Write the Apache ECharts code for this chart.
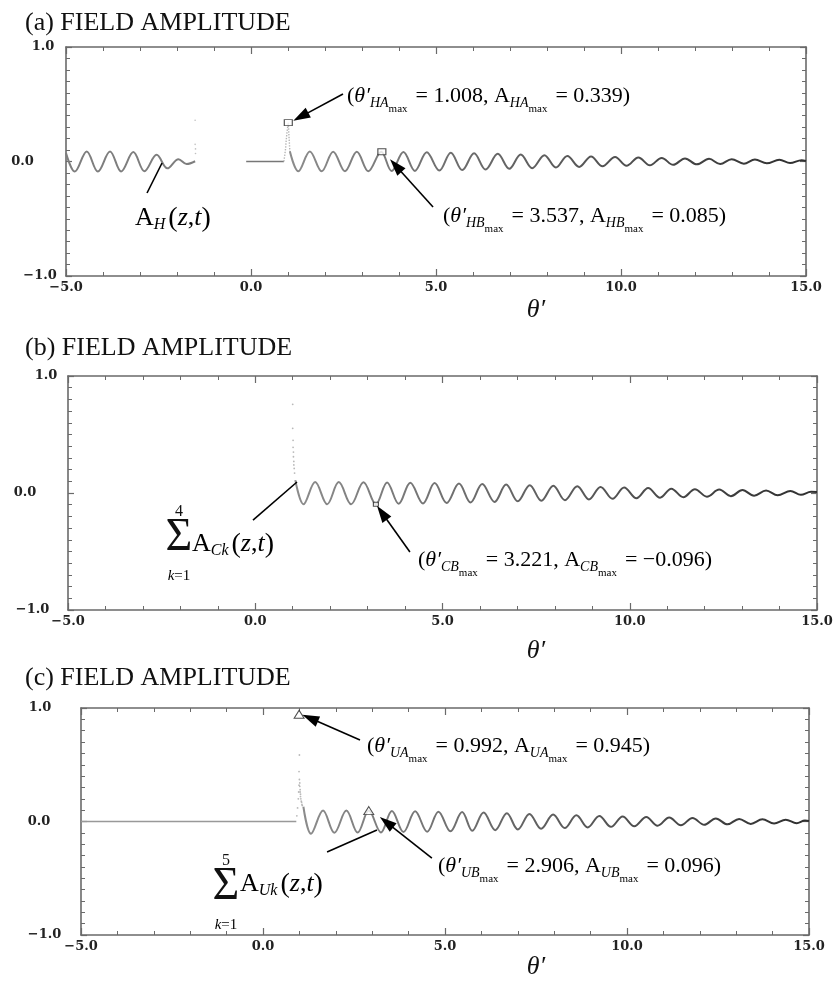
<!DOCTYPE html>
<html><head><meta charset="utf-8">
<script src="https://cdn.jsdelivr.net/npm/echarts@6/dist/echarts.min.js"></script>
<style>html,body{margin:0;padding:0;background:#fff}#c{width:838px;height:982px}</style>
</head><body><div id="c"></div>
<script>
// ---------------- data ----------------
const xTickValues = [-5, 0, 5, 10, 15];
const xTickLabels = ['\u22125.0', '0.0', '5.0', '10.0', '15.0'];
const yTickValues = [-1, 0, 1];
const yTickLabels = ['\u22121.0', '0.0', '1.0'];

// panel (a)
const thetaA_left = [-5.00,-4.76,-4.44,-4.14,-3.81,-3.51,-3.18,-2.88,-2.55,-2.26,-1.96,-1.74,-1.51];
const ampA_left   = [0.075,-0.088,0.088,-0.088,0.088,-0.087,0.082,-0.085,0.058,-0.060,0.020,-0.022,0.002];
const thetaA_dots = [-1.51,-1.51,-1.50,-1.50];
const ampA_dots   = [0.36,0.15,0.11,0.07];
const thetaA_flat = [-0.13, 0.89];
const ampA_flat   = [0, 0];
const thetaA_spike = [0.89,0.93,0.97,1.008,1.03,1.05];
const ampA_spike   = [0,0.10,0.25,0.339,0.20,0.09];
const thetaA = [1.05,1.28,1.59,1.91,2.22,2.54,2.86,3.17,3.52,3.80,4.12,4.43,4.75,5.09,5.40,5.71,6.03,6.34,6.67,6.98,7.29,7.60,7.93,8.24,8.55,8.87,9.19,9.50,9.84,10.15,10.47,10.78,11.10,11.41,11.73,12.05,12.38,12.68,12.99,13.32,13.62,13.94,14.28,14.57,14.88,15.0];
const ampA   = [0.09,-0.085,0.087,-0.086,0.086,-0.085,0.085,-0.085,0.085,-0.084,0.083,-0.082,0.081,-0.079,0.077,-0.075,0.072,-0.070,0.067,-0.064,0.061,-0.058,0.055,-0.052,0.049,-0.047,0.044,-0.042,0.039,-0.037,0.035,-0.033,0.031,-0.029,0.027,-0.025,0.023,-0.022,0.020,-0.019,0.017,-0.016,0.015,-0.014,0.012,0.005];
const markThetaA = [1.008, 3.537];
const markAmpA   = [0.339, 0.085];

// panel (b)
const thetaB_dots = [1.00,1.00,1.01,1.01,1.02,1.02,1.03,1.03,1.04,1.05];
const ampB_dots   = [0.758,0.553,0.45,0.39,0.35,0.31,0.27,0.24,0.21,0.17];
const thetaB = [1.07,1.29,1.60,1.92,2.23,2.56,2.89,3.221,3.52,3.83,4.14,4.48,4.79,5.11,5.44,5.75,6.06,6.39,6.70,7.01,7.33,7.64,7.96,8.27,8.60,8.91,9.22,9.54,9.85,10.18,10.49,10.81,11.11,11.43,11.74,12.06,12.39,12.70,13.01,13.32,13.64,13.95,14.29,14.57,14.84,15.0];
const ampB   = [0.11,-0.096,0.094,-0.096,0.093,-0.096,0.092,-0.096,0.090,-0.092,0.088,-0.089,0.085,-0.085,0.081,-0.081,0.077,-0.076,0.072,-0.071,0.067,-0.066,0.062,-0.061,0.057,-0.055,0.052,-0.050,0.047,-0.045,0.042,-0.040,0.037,-0.036,0.033,-0.031,0.029,-0.027,0.025,-0.023,0.021,-0.020,0.018,-0.016,0.010,0.008];
const markThetaB = [3.221];
const markAmpB   = [-0.096];

// panel (c)
const thetaC_flat = [-5.0, 0.915];
const ampC_flat   = [0, 0];
const thetaC_dots = [0.93,0.95,0.97,0.98,0.99,0.99,1.00,1.00,1.01,1.01,1.02,1.02,1.03,1.03,1.04,1.05,1.06,1.07,1.08];
const ampC_dots   = [0.05,0.12,0.20,0.26,0.32,0.44,0.586,0.37,0.34,0.31,0.28,0.26,0.24,0.22,0.20,0.18,0.17,0.15,0.14];
const thetaC = [1.11,1.32,1.65,1.96,2.29,2.60,2.906,3.24,3.54,3.86,4.18,4.51,4.82,5.15,5.47,5.75,6.06,6.38,6.70,7.00,7.32,7.64,7.97,8.29,8.61,8.92,9.24,9.56,9.88,10.20,10.53,10.84,11.16,11.48,11.80,12.12,12.44,12.76,13.08,13.40,13.72,14.04,14.36,14.66,14.89,15.0];
const ampC   = [0.13,-0.108,0.096,-0.100,0.096,-0.098,0.096,-0.096,0.093,-0.093,0.090,-0.090,0.087,-0.086,0.083,-0.082,0.079,-0.076,0.073,-0.070,0.067,-0.064,0.061,-0.058,0.055,-0.052,0.049,-0.047,0.044,-0.042,0.040,-0.037,0.035,-0.033,0.031,-0.029,0.027,-0.025,0.023,-0.021,0.019,-0.018,0.016,-0.015,0.008,0.005];
const markThetaC = [0.992, 2.906];
const markAmpC   = [0.945, 0.096];

// ---------------- helpers ----------------
const SERIF = "'Liberation Serif','Times New Roman',serif";
const LABF = "'DejaVu Serif',serif";
const AX = '#6a6a6a';
const zip = (a, b) => a.map((v, i) => [v, b[i]]);
const fmt = v => (v < 0 ? '\u2212' : '') + Math.abs(v).toFixed(3);
const grad = (c0, c1) => ({type:'linear', x:0, y:0, x2:1, y2:0, colorStops:[{offset:0,color:c0},{offset:1,color:c1}]});

const grids = [
  {left:66, top:47, width:740, height:229},
  {left:68, top:376, width:749, height:234},
  {left:81, top:708, width:728, height:227}
];
const yPads = [[52,87,46],[71,86,44],[73,84,82]];

const xAxes = [], yAxes = [];
grids.forEach((g, gi) => {
  const common = {gridIndex:gi, type:'value', min:-5, max:15, interval:5,
    axisLine:{show:true, onZero:false, lineStyle:{color:AX, width:1.6}},
    axisTick:{show:true, inside:true, length:7, lineStyle:{color:AX, width:1.2}},
    minorTick:{show:true, splitNumber:5, length:4, lineStyle:{color:AX, width:1}},
    splitLine:{show:false}, minorSplitLine:{show:false}};
  xAxes.push(Object.assign({}, common, {position:'bottom',
    axisLabel:{show:true, margin:5, fontFamily:LABF, fontSize:13, fontWeight:'bold', color:'#222',
      formatter: v => xTickLabels[xTickValues.indexOf(v)]}}));
  xAxes.push(Object.assign({}, common, {position:'top', axisLabel:{show:false}}));
  const ycommon = {gridIndex:gi, type:'value', min:-1, max:1, interval:1,
    axisLine:{show:true, onZero:false, lineStyle:{color:AX, width:1.6}},
    axisTick:{show:true, inside:true, length:6, lineStyle:{color:AX, width:1.2}},
    minorTick:{show:true, splitNumber:10, length:4, lineStyle:{color:AX, width:1}},
    splitLine:{show:false}, minorSplitLine:{show:false}};
  const rich = {};
  yPads[gi].forEach((p, k) => { rich['t'+k] = {padding:[0,p,0,0], fontFamily:LABF, fontSize:13, fontWeight:'bold', color:'#222'}; });
  yAxes.push(Object.assign({}, ycommon, {position:'left',
    axisLabel:{show:true, margin:0, align:'center', rich,
      formatter: v => { const k = yTickValues.indexOf(v); return '{t'+k+'|'+yTickLabels[k]+'}'; }}}));
  yAxes.push(Object.assign({}, ycommon, {position:'right', axisLabel:{show:false}}));
});

const series = [];
function addLine(gi, th, am, color, width, smooth, type) {
  series.push({type:'line', xAxisIndex:gi*2, yAxisIndex:gi*2, data:zip(th, am), showSymbol:false, symbol:'none',
    smooth:smooth, lineStyle:{color, width, type:type||'solid'}, silent:true, animation:false, z:2});
  return series.length - 1;
}
function addDots(gi, th, am, color, size) {
  series.push({type:'scatter', xAxisIndex:gi*2, yAxisIndex:gi*2, data:zip(th, am), symbol:'circle', symbolSize:size,
    itemStyle:{color}, silent:true, animation:false, z:2});
}
function addMarks(gi, th, am, symbol, size) {
  series.push({type:'scatter', xAxisIndex:gi*2, yAxisIndex:gi*2, data:zip(th, am), symbol, symbolSize:size,
    itemStyle:{color:'#fff', borderColor:'#222', borderWidth:1}, silent:true, animation:false, z:5});
}

const LG = grad('#8c8c8c', '#2e2e2e');
// (a)
addLine(0, thetaA_left, ampA_left, '#7e7e7e', 2, 0.36);
addDots(0, thetaA_dots, ampA_dots, '#b0b0b0', 1.6);
addLine(0, thetaA_flat, ampA_flat, '#777', 1.5, false);
addLine(0, thetaA_spike, ampA_spike, '#b5b5b5', 1.4, false, 'dotted');
const sA = addLine(0, thetaA, ampA, LG, 2, 0.36);
addMarks(0, markThetaA, markAmpA, 'rect', [8,6]);
// (b)
addDots(1, thetaB_dots, ampB_dots, '#a8a8a8', 1.8);
const sB = addLine(1, thetaB, ampB, LG, 2, 0.36);
addMarks(1, markThetaB, markAmpB, 'rect', [5,4]);
// (c)
addLine(2, thetaC_flat, ampC_flat, '#999', 1.5, false);
addDots(2, thetaC_dots, ampC_dots, '#a8a8a8', 1.8);
const sC = addLine(2, thetaC, ampC, LG, 2, 0.36);
addMarks(2, markThetaC, markAmpC, 'triangle', [10,8]);

const chart = echarts.init(document.getElementById('c'), null, {renderer:'canvas'});
chart.setOption({animation:false, backgroundColor:'#fff', grid:grids, xAxis:xAxes, yAxis:yAxes, series});

// ---------------- annotations ----------------
const annRich = {
  n:{fontFamily:SERIF, fontSize:22, lineHeight:28, verticalAlign:'top', color:'#111'},
  i:{fontFamily:SERIF, fontSize:22, fontStyle:'italic', lineHeight:28, verticalAlign:'top', color:'#111'},
  s:{fontFamily:SERIF, fontSize:14, fontStyle:'italic', lineHeight:16, verticalAlign:'top', padding:[11,0,0,0], color:'#111'},
  m:{fontFamily:SERIF, fontSize:11, lineHeight:12, verticalAlign:'top', padding:[19,8,0,0], color:'#111'}
};
const aRich = {
  A:{fontFamily:SERIF, fontSize:26, lineHeight:32, verticalAlign:'top', color:'#111'},
  it:{fontFamily:SERIF, fontSize:26, fontStyle:'italic', lineHeight:32, verticalAlign:'top', color:'#111'},
  sb:{fontFamily:SERIF, fontSize:16, fontStyle:'italic', lineHeight:18, verticalAlign:'top', padding:[12,3,0,0], color:'#111'},
  p:{fontFamily:SERIF, fontSize:28, lineHeight:32, verticalAlign:'top', color:'#111'}
};
function ann(x, y, sub, th, am) {
  return {type:'text', x, y, z:50, style:{align:'left', verticalAlign:'top', rich:annRich,
    text:'{n|(}{i|\u03b8\u2032}{s|'+sub+'}{m|max}{n|= '+fmt(th)+', A}{s|'+sub+'}{m|max}{n|= '+fmt(am)+')}'}};
}
function plain(x, y, text, size, extra) {
  return {type:'text', x, y, z:50, style:Object.assign({text, fontFamily:SERIF, fontSize:size, fill:'#111', align:'left', verticalAlign:'top'}, extra||{})};
}
function sumLabel(cx, cy, top, sub, ax, ay) {
  return [
    plain(cx, cy, '\u03a3', 46, {align:'center', verticalAlign:'middle'}),
    plain(cx, cy-26, top, 16, {align:'center', verticalAlign:'middle'}),
    {type:'text', x:cx, y:cy+38, z:50, style:{align:'center', verticalAlign:'middle', text:'{k|k}{e|=1}',
      rich:{k:{fontFamily:SERIF, fontSize:15, fontStyle:'italic', color:'#111'}, e:{fontFamily:SERIF, fontSize:15, color:'#111'}}}},
    {type:'text', x:ax, y:ay, z:50, style:{align:'left', verticalAlign:'top', rich:aRich,
      text:'{A|A}{sb|'+sub+'}{p|(}{it|z}{A|,}{it|t}{p|)}'}}
  ];
}
function arrow(si, from, to, head) {
  const a = chart.convertToPixel({seriesIndex:si}, from);
  const b = chart.convertToPixel({seriesIndex:si}, to);
  const els = [];
  let ex = b[0], ey = b[1];
  if (head) {
    const dx = b[0]-a[0], dy = b[1]-a[1], L = Math.hypot(dx, dy), ux = dx/L, uy = dy/L;
    const HL = 17, HW = 5.5;
    const bx = b[0]-ux*HL, by = b[1]-uy*HL;
    els.push({type:'polygon', z:60, shape:{points:[[b[0],b[1]],[bx-uy*HW, by+ux*HW],[bx+uy*HW, by-ux*HW]]}, style:{fill:'#000'}});
    ex = bx + ux*2; ey = by + uy*2;
  }
  els.push({type:'line', z:60, shape:{x1:a[0], y1:a[1], x2:ex, y2:ey}, style:{stroke:'#000', lineWidth:1.6}});
  return els;
}

const elements = [
  plain(25, 10, '(a) FIELD AMPLITUDE', 26),
  plain(25, 335, '(b) FIELD AMPLITUDE', 26),
  plain(25, 665, '(c) FIELD AMPLITUDE', 26),
  plain(536, 310, '\u03b8\u2032', 26, {fontStyle:'italic', align:'center', verticalAlign:'middle'}),
  plain(536, 651, '\u03b8\u2032', 26, {fontStyle:'italic', align:'center', verticalAlign:'middle'}),
  plain(536, 967, '\u03b8\u2032', 26, {fontStyle:'italic', align:'center', verticalAlign:'middle'}),
  ann(347, 85, 'HA', markThetaA[0], markAmpA[0]),
  ann(443, 205, 'HB', markThetaA[1], markAmpA[1]),
  ann(418, 549, 'CB', markThetaB[0], markAmpB[0]),
  ann(367, 735, 'UA', markThetaC[0], markAmpC[0]),
  ann(438, 855, 'UB', markThetaC[1], markAmpC[1]),
  {type:'text', x:135, y:205, z:50, style:{align:'left', verticalAlign:'top', rich:aRich,
    text:'{A|A}{sb|H}{p|(}{it|z}{A|,}{it|t}{p|)}'}},
  ...sumLabel(179, 538, '4', 'Ck', 192, 531),
  ...sumLabel(226, 887, '5', 'Uk', 240, 871),
  ...arrow(sA, [2.486, 0.590], [1.143, 0.356], true),
  ...arrow(sA, [4.92, -0.397], [3.757, 0.019], true),
  ...arrow(sA, [-2.81, -0.275], [-2.405, -0.013], false),
  ...arrow(sB, [4.13, -0.504], [3.25, -0.11], true),
  ...arrow(sB, [-0.06, -0.231], [1.115, 0.094], false),
  ...arrow(sC, [2.665, 0.718], [1.08, 0.94], true),
  ...arrow(sC, [4.64, -0.322], [3.21, 0.04], true),
  ...arrow(sC, [1.76, -0.269], [3.13, -0.075], false)
];
chart.setOption({graphic:{elements}});
</script></body></html>
